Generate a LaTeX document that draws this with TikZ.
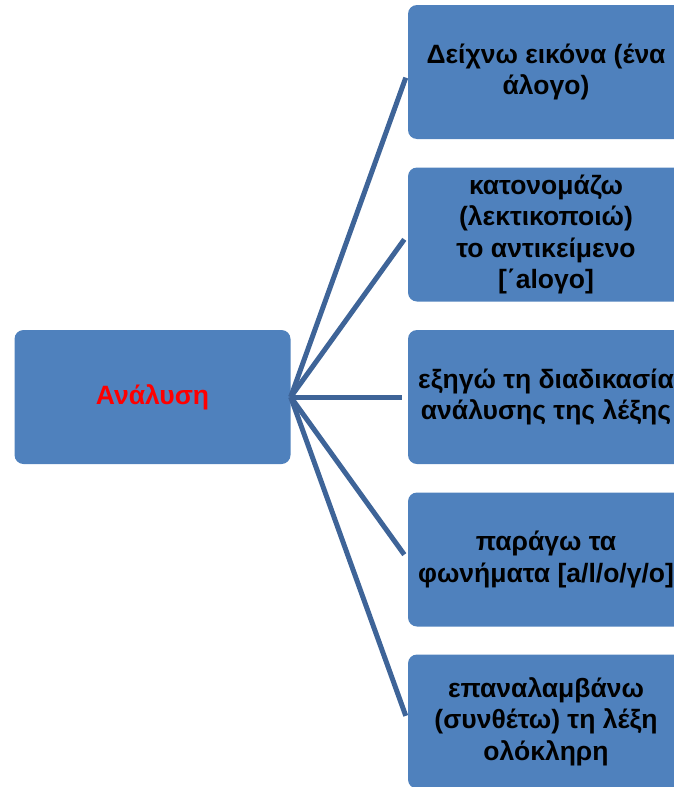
\documentclass[tikz,border=0pt]{standalone}
\usepackage{fontspec}
\setmainfont{Liberation Sans}
\definecolor{boxblue}{HTML}{4F81BD}
\definecolor{lineblue}{HTML}{3E6498}
\begin{document}
\begin{tikzpicture}[x=1pt,y=-1pt,
	box/.style={fill=boxblue,rounded corners=9pt,minimum width=276pt,minimum height=134pt,
		align=center,font=\bfseries\fontsize{26.5}{31.5}\selectfont,inner sep=0pt},
	spoke/.style={draw=lineblue,line width=5pt,shorten >=6pt}]
	\useasboundingbox (0,0) rectangle (674,787);
	\clip (0,0) rectangle (674,787);
	\node [box,text=red] (ana) at (152.5,397) {Ανάλυση};
	\node [box] (show) at (546,72) {Δείχνω εικόνα (ένα\\άλογο)};
	\node [box] (name) at (546,234.5) {κατονομάζω\\(λεκτικοποιώ)\\το αντικείμενο\\{[΄aloγo]}};
	\node [box] (expl) at (546,397) {εξηγώ τη διαδικασία\\ανάλυσης της λέξης};
	\node [box] (phon) at (546,559.5) {παράγω τα\\φωνήματα [a/l/o/γ/o]};
	\node [box] (rep) at (546,721.5) {επαναλαμβάνω\\(συνθέτω) τη λέξη\\ολόκληρη};
	\foreach \b in {show,name,expl,phon,rep}
		\draw [spoke] (ana.east) -- (\b.west);
\end{tikzpicture}
\end{document}
